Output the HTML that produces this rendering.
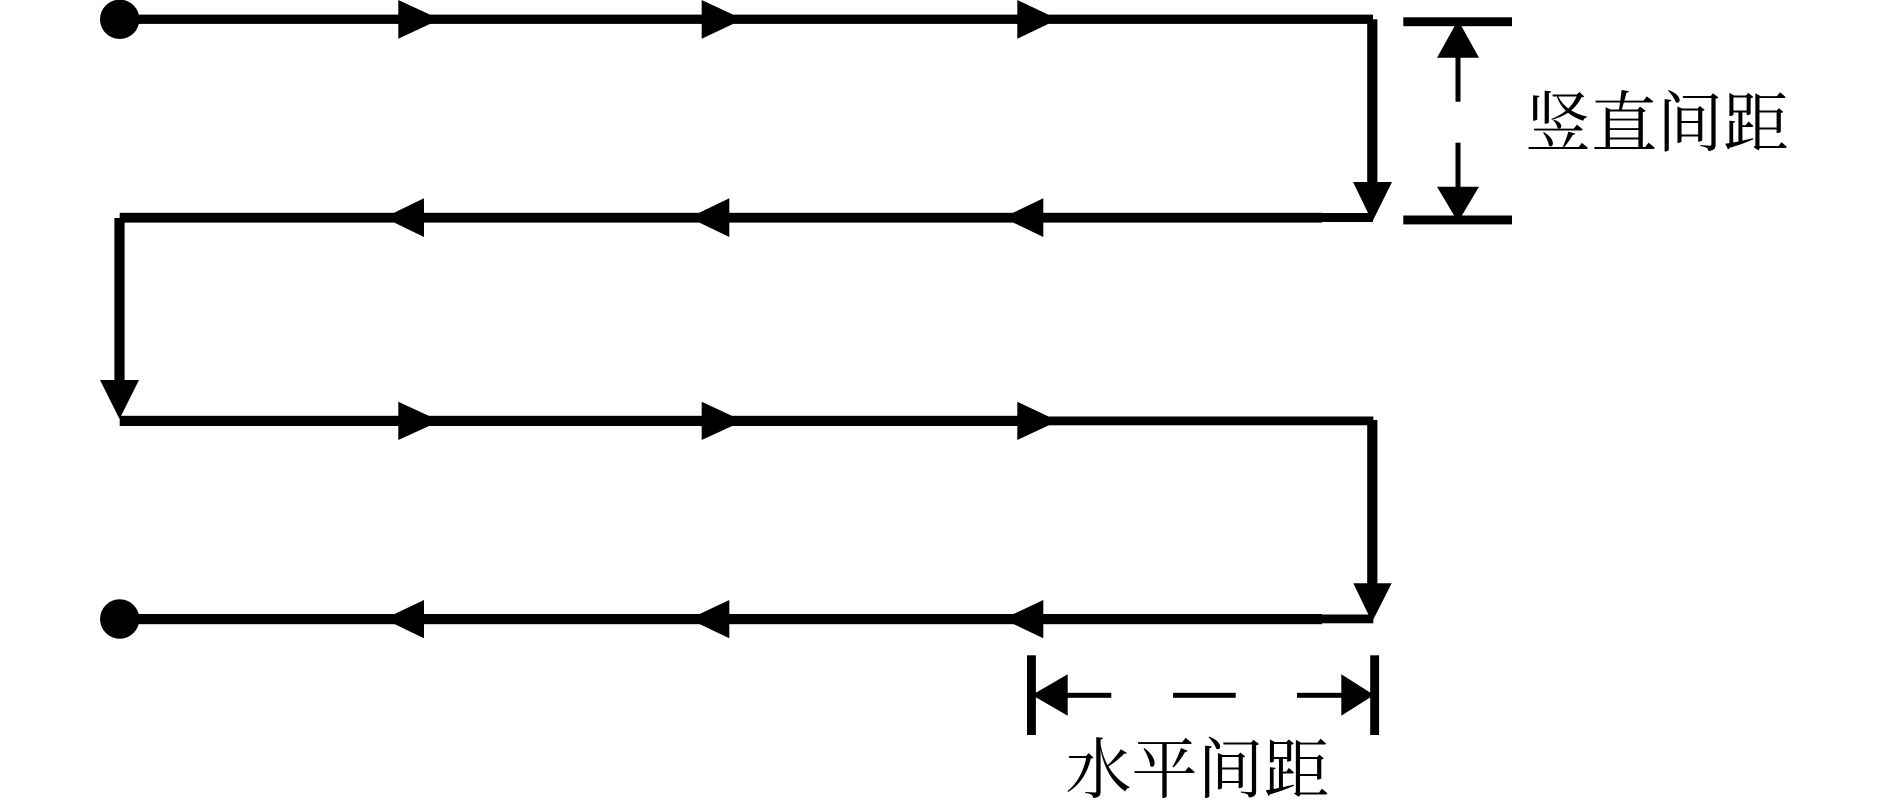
<!DOCTYPE html>
<html>
<head>
<meta charset="utf-8">
<style>
html,body{margin:0;padding:0;background:#fff;width:1890px;height:801px;overflow:hidden}
svg{display:block}
text{font-family:"Liberation Serif","Noto Serif CJK SC",serif;font-size:66px;fill:#000}
</style>
</head>
<body>
<svg width="1890" height="801" viewBox="0 0 1890 801" xmlns="http://www.w3.org/2000/svg">
<rect width="1890" height="801" fill="#fff"/>
<g fill="#000">
<!-- Row 1 -->
<circle cx="119.7" cy="19.3" r="19.7"/>
<rect x="120" y="14.6" width="1253" height="9.3"/>
<polygon points="398.3,0 440,19.3 398.3,38.7"/>
<polygon points="701.7,0 743,19.3 701.7,38.7"/>
<polygon points="1017.3,0 1058,19.3 1017.3,38.7"/>
<!-- Right drop 1 -->
<rect x="1367.2" y="19.3" width="10.2" height="175"/>
<polygon points="1353,182 1392,182 1372.3,221.7"/>
<!-- Row 2 -->
<rect x="1322" y="213" width="51" height="9"/>
<rect x="119.7" y="212.8" width="1202.3" height="9.8"/>
<polygon points="384,217.6 424,198.3 424,237"/>
<polygon points="689,217.6 729.3,198.3 729.3,237"/>
<polygon points="1003,217.6 1043.3,198.3 1043.3,237"/>
<!-- Left drop -->
<rect x="114.4" y="218" width="10.2" height="170"/>
<polygon points="100,380 139,380 119.5,419"/>
<!-- Row 3 -->
<rect x="119.7" y="415.8" width="925" height="10.2"/>
<rect x="1040" y="416.5" width="333.3" height="8.8"/>
<polygon points="398.3,401.7 440,421 398.3,440"/>
<polygon points="701.7,401.7 743,421 701.7,440"/>
<polygon points="1017.3,401.7 1058,421 1017.3,440"/>
<!-- Right drop 2 -->
<rect x="1367.2" y="420" width="10.2" height="175"/>
<polygon points="1353.3,583.3 1391.7,583.3 1372,622"/>
<!-- Row 4 -->
<circle cx="119.7" cy="619" r="19.7"/>
<rect x="120" y="614" width="1202" height="10.2"/>
<rect x="1322" y="614.5" width="51.3" height="8.8"/>
<polygon points="384,619 424,600 424,638.3"/>
<polygon points="689,619 729.3,600 729.3,638.3"/>
<polygon points="1003,619 1043.3,600 1043.3,638.3"/>
<!-- Vertical dimension -->
<rect x="1403.3" y="17.3" width="108.7" height="8.9"/>
<rect x="1403.3" y="215.5" width="108.7" height="8.9"/>
<rect x="1455.5" y="55" width="5" height="46.7"/>
<rect x="1455.5" y="142.7" width="5" height="46"/>
<polygon points="1458,20 1479,57.7 1437,57.7"/>
<polygon points="1437,186.7 1479,186.7 1458,222"/>
<!-- Horizontal dimension -->
<rect x="1027" y="655.3" width="8.9" height="79.7"/>
<rect x="1370.2" y="655.3" width="8.9" height="79.7"/>
<polygon points="1032,695 1067.7,674.3 1067.7,715.7"/>
<polygon points="1374,695 1341.3,674.3 1341.3,715.7"/>
<rect x="1066" y="692.8" width="45.3" height="5"/>
<rect x="1173" y="692.8" width="62.7" height="5"/>
<rect x="1297" y="692.8" width="46" height="5"/>
</g>
<text x="1525" y="146">竖直间距</text>
<text x="1065.5" y="792.5">水平间距</text>
</svg>
</body>
</html>
